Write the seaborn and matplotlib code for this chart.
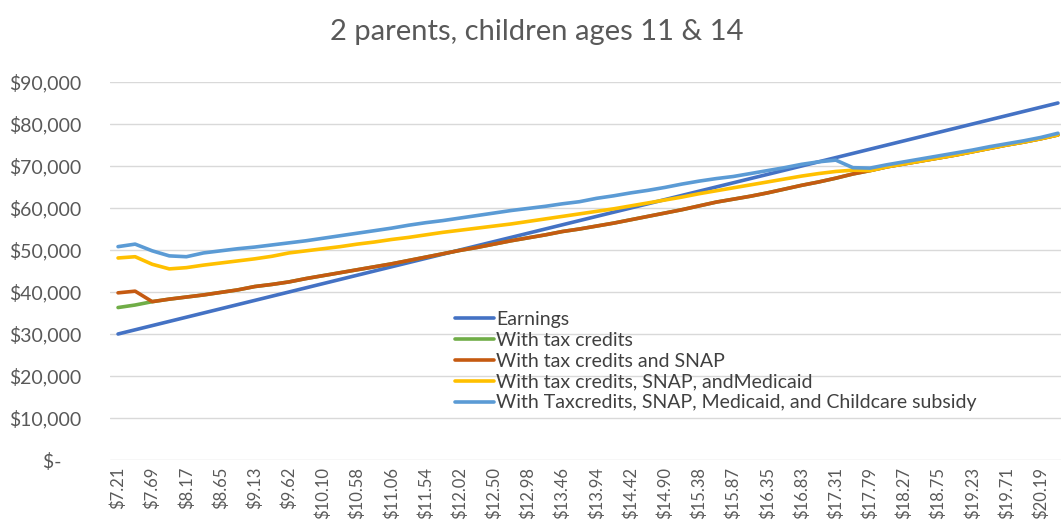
import pandas as pd
import matplotlib.pyplot as plt
import matplotlib.ticker as mticker
import seaborn as sns

# annual household income by hourly wage step (one step = $1,000 earned)
earnings = [30000, 31000, 32000, 33000, 34000, 35000, 36000, 37000, 38000, 39000,
            40000, 41000, 42000, 43000, 44000, 45000, 46000, 47000, 48000, 49000,
            50000, 51000, 52000, 53000, 54000, 55000, 56000, 57000, 58000, 59000,
            60000, 61000, 62000, 63000, 64000, 65000, 66000, 67000, 68000, 69000,
            70000, 71000, 72000, 73000, 74000, 75000, 76000, 77000, 78000, 79000,
            80000, 81000, 82000, 83000, 84000, 85000]

tax_credits = [36300, 36900, 37700, 38300, 38800, 39300, 39900, 40500, 41300, 41800,
               42400, 43200, 43900, 44600, 45300, 46000, 46700, 47500, 48300, 49100,
               49900, 50600, 51400, 52200, 52900, 53600, 54400, 55000, 55700, 56400,
               57200, 58000, 58800, 59600, 60500, 61400, 62100, 62800, 63600, 64500,
               65400, 66200, 67100, 68100, 68900, 69800, 70500, 71200, 71900, 72600,
               73400, 74200, 75000, 75700, 76500, 77400]

snap = [39800, 40200, 37700, 38300, 38800, 39300, 39900, 40500, 41300, 41800,
        42400, 43200, 43900, 44600, 45300, 46000, 46700, 47500, 48300, 49100,
        49900, 50600, 51400, 52200, 52900, 53600, 54400, 55000, 55700, 56400,
        57200, 58000, 58800, 59600, 60500, 61400, 62100, 62800, 63600, 64500,
        65400, 66200, 67100, 68100, 68900, 69800, 70500, 71200, 71900, 72600,
        73400, 74200, 75000, 75700, 76500, 77400]

medicaid = [48100, 48400, 46600, 45500, 45800, 46400, 46900, 47400, 47900, 48500,
            49300, 49800, 50300, 50800, 51400, 51900, 52500, 53000, 53600, 54200,
            54700, 55200, 55700, 56200, 56800, 57400, 58000, 58600, 59200, 59800,
            60500, 61200, 61900, 62600, 63400, 64100, 64800, 65500, 66200, 66900,
            67600, 68200, 68700, 69000, 68900, 69800, 70500, 71200, 71900, 72600,
            73400, 74200, 75000, 75700, 76500, 77400]

childcare = [50800, 51400, 49800, 48600, 48400, 49300, 49800, 50300, 50700, 51200,
             51700, 52200, 52800, 53400, 54000, 54600, 55200, 55900, 56500, 57000,
             57600, 58200, 58800, 59400, 59900, 60400, 61000, 61500, 62300, 62900,
             63600, 64200, 64900, 65700, 66400, 67000, 67500, 68200, 68900, 69600,
             70400, 71000, 71400, 69600, 69500, 70300, 71000, 71700, 72400, 73100,
             73800, 74600, 75300, 76000, 76800, 77800]

# hourly wage labels shown on every other step
wage_labels = ["$7.21", "$7.69", "$8.17", "$8.65", "$9.13", "$9.62", "$10.10",
               "$10.58", "$11.06", "$11.54", "$12.02", "$12.50", "$12.98", "$13.46",
               "$13.94", "$14.42", "$14.90", "$15.38", "$15.87", "$16.35", "$16.83",
               "$17.31", "$17.79", "$18.27", "$18.75", "$19.23", "$19.71", "$20.19"]

series_names = ["Earnings", "With tax credits", "With tax credits and SNAP",
                "With tax credits, SNAP, andMedicaid",
                "With Taxcredits, SNAP, Medicaid, and Childcare subsidy"]
colors = ["#4472C4", "#70AD47", "#C55A11", "#FFC000", "#5B9BD5"]

frames = []
for name, vals in zip(series_names, [earnings, tax_credits, snap, medicaid, childcare]):
    frames.append(pd.DataFrame({"step": range(len(vals)), "income": vals, "series": name}))
df = pd.concat(frames, ignore_index=True)

sns.set_style("white")
plt.rcParams['font.family'] = ['Lato', 'DejaVu Sans']

fig = plt.figure(figsize=(10.61, 5.29), dpi=100)
ax = fig.add_axes([109.5 / 1061, 69 / 529, 957 / 1061, 378 / 529])

sns.lineplot(data=df, x="step", y="income", hue="series", hue_order=series_names,
             palette=colors, linewidth=2.6, sort=False, ax=ax)

ax.set_xlim(-0.5, len(earnings) - 0.5)
ax.set_ylim(0, 90000)
ax.set_yticks(range(0, 90001, 10000))
ax.yaxis.set_major_formatter(mticker.FuncFormatter(
    lambda v, p: "$-    " if v == 0 else "${:,.0f}".format(v)))
ax.set_xticks(range(0, len(earnings), 2))
ax.set_xticklabels(wage_labels, rotation=90)
ax.tick_params(axis="y", length=0, pad=20, labelsize=14, labelcolor="#595959")
ax.tick_params(axis="x", length=0, pad=5, labelsize=12, labelcolor="#595959")
ax.grid(axis="y", color="#D9D9D9", linewidth=1)
ax.set_axisbelow(True)
for s in ["top", "right", "left", "bottom"]:
    ax.spines[s].set_visible(False)
ax.set_xlabel("")
ax.set_ylabel("")

ax.set_title("2 parents, children ages 11 & 14", fontsize=21, color="#595959",
             x=(537 - 109.5) / 957, y=1.0, pad=30)

leg = ax.legend(loc="upper left", bbox_to_anchor=(0.353, 0.415), frameon=False,
                fontsize=14, handlelength=2.0, handletextpad=0.1,
                labelspacing=0.2, borderaxespad=0)
for t in leg.get_texts():
    t.set_color("#404040")

plt.savefig("out.png", dpi=100)
